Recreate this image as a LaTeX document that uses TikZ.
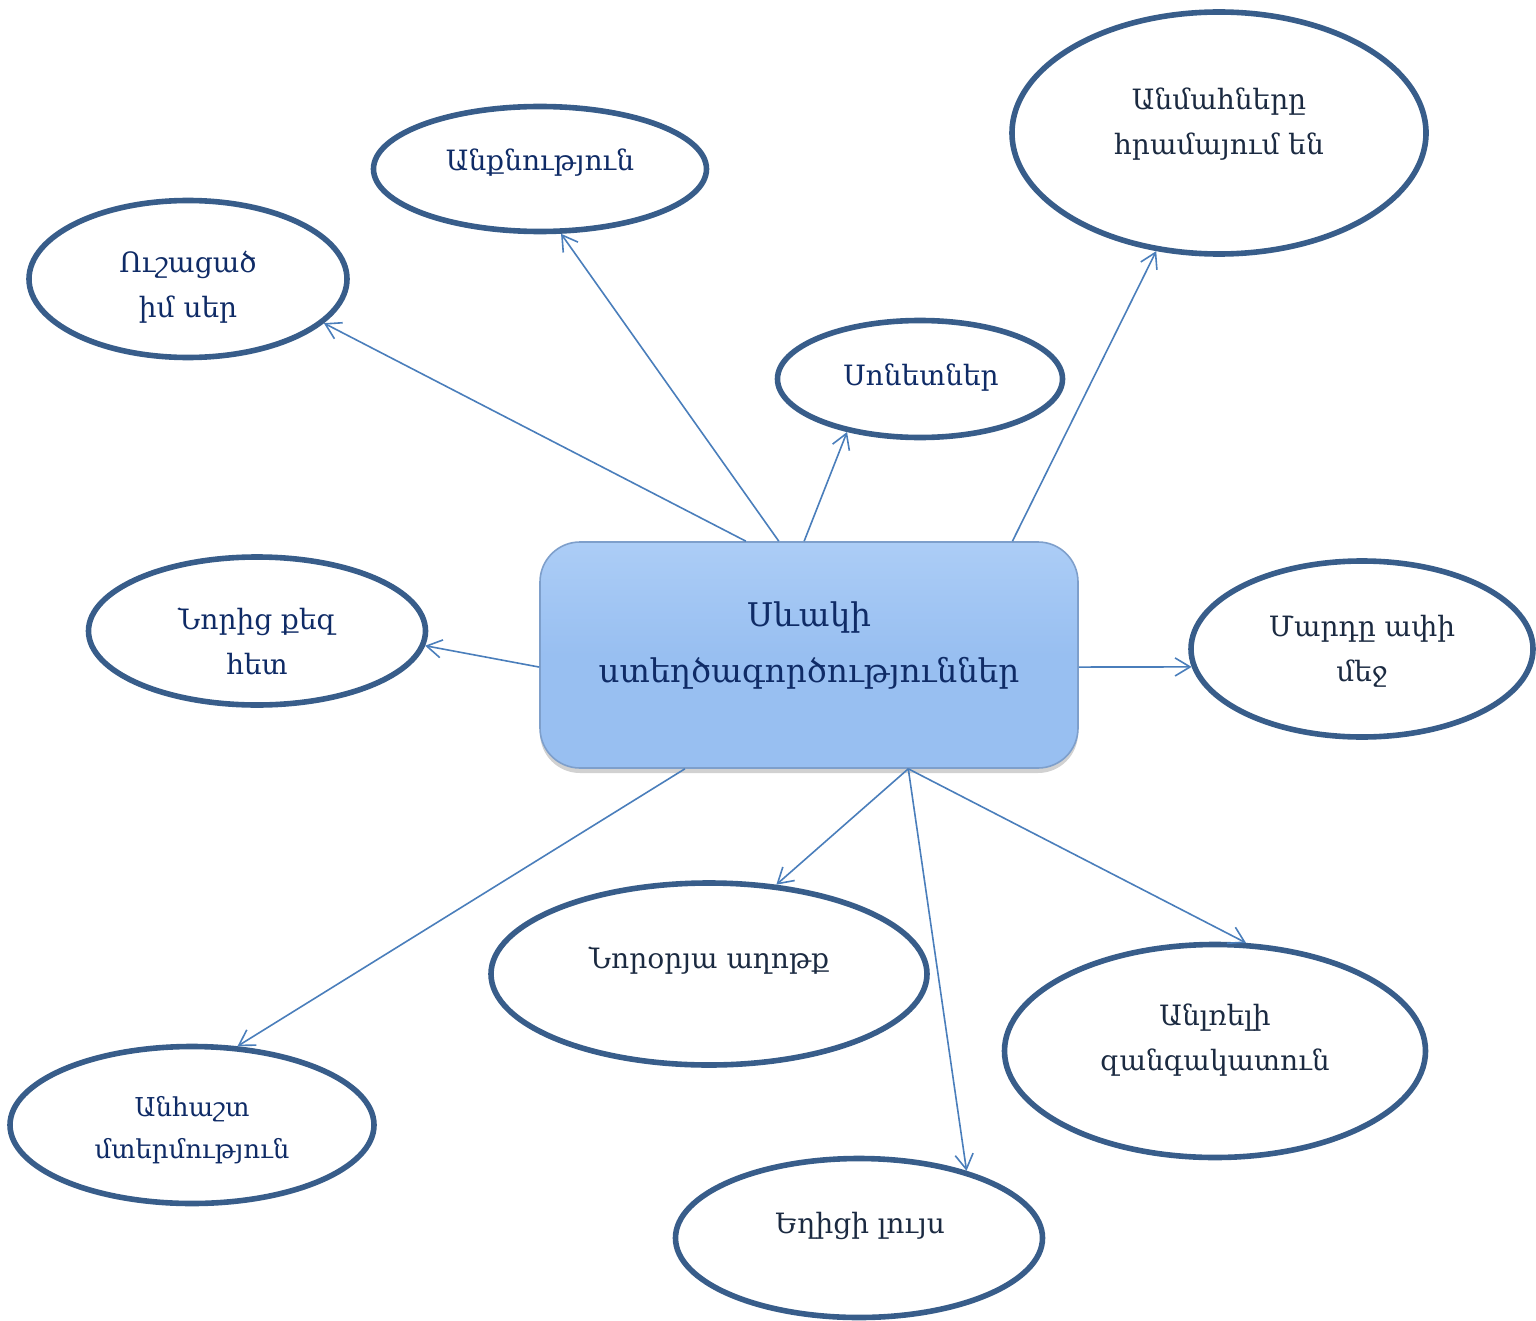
\documentclass[tikz,border=0pt]{standalone}
\usepackage{fontspec}
\setmainfont{DejaVu Serif}
\usetikzlibrary{shapes.geometric,arrows.meta,calc,shadows}
\definecolor{ellline}{HTML}{385D8A}
\definecolor{arrowc}{HTML}{4A7EBB}
\definecolor{txtblue}{HTML}{0F2B66}
\definecolor{txtdark}{HTML}{1B2A41}
\definecolor{boxfill}{HTML}{98BFF1}
\definecolor{boxtop}{HTML}{ACCDF6}
\definecolor{boxline}{HTML}{7E9FCB}
\tikzset{
  ell/.style={ellipse, draw=ellline, line width=2.8pt, inner sep=0pt},
  lbl/.style={align=center, inner sep=0pt, font=\fontsize{14pt}{22.5pt}\selectfont},
  conn/.style={draw=arrowc, line width=0.8pt, -{Straight Barb[length=7.5pt,width=9pt]}},
}
\begin{document}
\begin{tikzpicture}[x=0.5pt,y=-0.5pt]
\useasboundingbox (0,0) rectangle (1536,1321);
% central box
\node (box) [rectangle, rounded corners=20pt, minimum width=269pt, minimum height=113pt,
  draw=boxline, line width=0.8pt, top color=boxtop, bottom color=boxfill, middle color=boxfill,
  drop shadow={shadow xshift=0pt, shadow yshift=-2.5pt, opacity=0.3, fill=black!60}] at (809,655) {};
\node (ctrT) [align=center, inner sep=0pt, text=txtblue, font=\fontsize{16.3pt}{28pt}\selectfont] at (809,646)
  {Սևակի\\ստեղծագործություններ};
% ellipses
\node (anq) [ell, minimum width=166.5pt, minimum height=62.5pt] at (540,169) {};
\node (anm) [ell, minimum width=207pt, minimum height=121pt] at (1219,133) {};
\node (ush) [ell, minimum width=159pt, minimum height=78.5pt] at (188,279) {};
\node (son) [ell, minimum width=142.5pt, minimum height=58.5pt] at (920,379) {};
\node (nor) [ell, minimum width=168.5pt, minimum height=74pt] at (257,631) {};
\node (mar) [ell, minimum width=171pt, minimum height=88pt] at (1362,649) {};
\node (nro) [ell, minimum width=218pt, minimum height=91pt] at (709,974) {};
\node (anl) [ell, minimum width=210.5pt, minimum height=106.5pt] at (1215,1051) {};
\node (anh) [ell, minimum width=182pt, minimum height=78.5pt] at (192,1125) {};
\node (egh) [ell, minimum width=183.5pt, minimum height=79.5pt] at (859,1238) {};
% labels
\node (anqT) [lbl, text=txtblue] at (540,163) {Անքնություն};
\node (anmT) [lbl, text=txtdark] at (1219,124) {Անմահները\\հրամայում են};
\node (ushT) [lbl, text=txtblue] at (188,287) {Ուշացած\\իմ սեր};
\node (sonT) [lbl, text=txtblue] at (921,378) {Սոնետներ};
\node (norT) [lbl, text=txtblue] at (257,641) {Նորից քեզ\\հետ};
\node (marT) [lbl, text=txtdark] at (1362,651) {Մարդը ափի\\մեջ};
\node (nroT) [lbl, text=txtdark] at (709,961) {Նորօրյա աղոթք};
\node (anlT) [lbl, text=txtdark] at (1215,1040) {Անլռելի\\զանգակատուն};
\node (anhT) [lbl, text=txtblue, font=\fontsize{13pt}{21pt}\selectfont] at (192,1130) {Անհաշտ\\մտերմություն};
\node (eghT) [lbl, text=txtdark] at (860,1226) {Եղիցի լույս};
% start points on the box
\coordinate (t1) at ($(box.north west)!0.383!(box.north east)$);
\coordinate (t2) at ($(box.north west)!0.444!(box.north east)$);
\coordinate (t3) at ($(box.north west)!0.491!(box.north east)$);
\coordinate (t4) at ($(box.north west)!0.877!(box.north east)$);
\coordinate (lf) at ($(box.south west)!0.447!(box.north west)$);
\coordinate (rt) at ($(box.south east)!0.447!(box.north east)$);
\coordinate (b1) at ($(box.south west)!0.684!(box.south east)$);
\coordinate (b2) at ($(box.south west)!0.27!(box.south east)$);
% connectors
\draw[conn] (t1) -- (ush.-18);
\draw[conn] (t2) -- (anq.-72);
\draw[conn] (t3) -- (son.216);
\draw[conn] (t4) -- (anm.242);
\draw[conn] (lf) -- (nor.-5);
\draw[conn] (rt) -- (mar.186);
\draw[conn] (b1) -- (nro.53);
\draw[conn] (b1) -- (egh.32);
\draw[conn] (b1) -- (anl.74);
\draw[conn] (b2) -- (anh.60);
\end{tikzpicture}
\end{document}
